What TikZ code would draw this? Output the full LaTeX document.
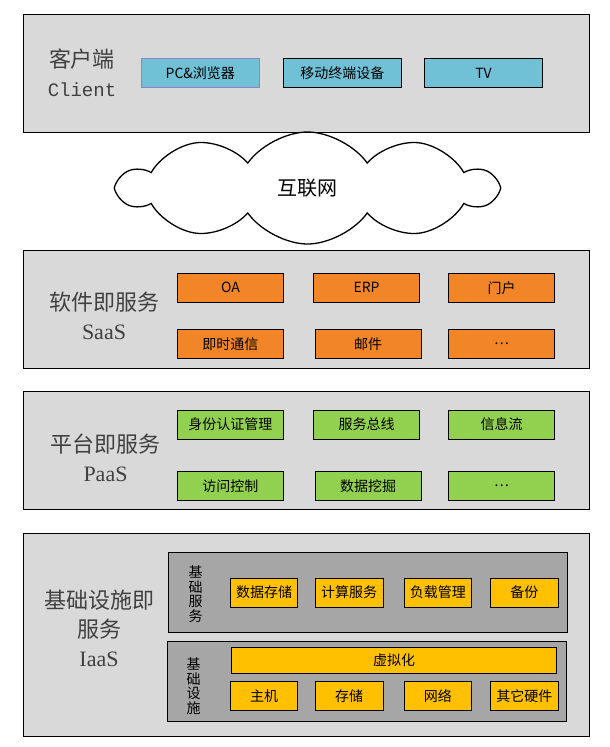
\documentclass[tikz,border=0pt]{standalone}
\usepackage{fontspec}
\setmainfont{Liberation Serif}
\newfontfamily\cjk{Noto Sans CJK SC}
\newfontfamily\monofont{Liberation Mono}
\usetikzlibrary{shapes.symbols}
\definecolor{panelgray}{RGB}{217,217,217}
\definecolor{darkpanel}{RGB}{166,166,166}
\definecolor{clientblue}{RGB}{112,192,214}
\definecolor{saasorange}{RGB}{241,133,40}
\definecolor{paasgreen}{RGB}{146,208,80}
\definecolor{iaasyellow}{RGB}{255,192,0}
\definecolor{labelgray}{RGB}{64,64,64}
\definecolor{borderpurple}{RGB}{150,130,190}
\tikzset{
  layer/.style={draw=black, fill=panelgray, line width=1pt},
  sublayer/.style={draw=black, fill=darkpanel, line width=1pt},
  item/.style={draw=black, line width=0.9pt, inner sep=0pt, minimum height=29pt,
    font=\cjk\fontsize{14}{14}\selectfont},
  title/.style={text=labelgray, align=center, font=\cjk\fontsize{22}{29}\selectfont},
  vtitle/.style={align=center, font=\cjk\fontsize{14}{14.6}\selectfont},
}
\begin{document}
\begin{tikzpicture}[x=1pt, y=-1pt]
  \useasboundingbox[fill=white] (0,0) rectangle (610,747);
  % client layer
  \draw[layer] (23.7,14.3) rectangle (589.5,132.3);
  \node[title] (client) at (82,73) {客户端\\{\monofont\fontsize{19}{28}\selectfont Client}};
  \node[item, fill=clientblue, draw=borderpurple, minimum width=118pt] (pc) at (200.3,73) {PC\&浏览器};
  \node[item, fill=clientblue, minimum width=118pt] (mobile) at (342.3,73) {移动终端设备};
  \node[item, fill=clientblue, minimum width=118pt] (tv) at (483.5,73) {TV};
  % internet
  \node[cloud, draw, cloud puffs=10, cloud puff arc=110, cloud ignores aspect,
    minimum width=376pt, minimum height=112pt, line width=1.3pt,
    font=\cjk\fontsize{20}{20}\selectfont] (internet) at (307.5,188) {互联网};
  % SaaS
  \draw[layer] (23.7,250.7) rectangle (589.5,368.3);
  \node[title] (saas) at (104,315.5) {软件即服务\\{\rmfamily SaaS}};
  \node[item, fill=saasorange, minimum width=106pt] (oa) at (230.4,287.8) {OA};
  \node[item, fill=saasorange, minimum width=106pt] (erp) at (366.5,287.8) {ERP};
  \node[item, fill=saasorange, minimum width=106pt] (portal) at (501.5,287.8) {门户};
  \node[item, fill=saasorange, minimum width=106pt] (im) at (230.4,344.2) {即时通信};
  \node[item, fill=saasorange, minimum width=106pt] (mail) at (368.2,344.2) {邮件};
  \node[item, fill=saasorange, minimum width=106pt] (saasmore) at (501.5,344.2) {…};
  % PaaS
  \draw[layer] (23.7,391.7) rectangle (589.5,509.3);
  \node[title] (paas) at (105.5,457.5) {平台即服务\\{\rmfamily PaaS}};
  \node[item, fill=paasgreen, minimum width=106pt] (auth) at (230.4,424.5) {身份认证管理};
  \node[item, fill=paasgreen, minimum width=106pt] (bus) at (366.5,424.5) {服务总线};
  \node[item, fill=paasgreen, minimum width=106pt] (flow) at (501.5,424.5) {信息流};
  \node[item, fill=paasgreen, minimum width=106pt] (access) at (230.4,485.8) {访问控制};
  \node[item, fill=paasgreen, minimum width=106pt] (mining) at (368.2,485.8) {数据挖掘};
  \node[item, fill=paasgreen, minimum width=106pt] (paasmore) at (501.5,485.8) {…};
  % IaaS
  \draw[layer] (23.7,533.3) rectangle (589.5,736.7);
  \node[title] (iaas) at (99,628.5) {基础设施即\\服务\\{\rmfamily IaaS}};
  \draw[sublayer] (168,552.3) rectangle (567.3,632.3);
  \node[vtitle] (basesrv) at (195.5,594) {基\\础\\服\\务};
  \node[item, fill=iaasyellow, minimum width=67.5pt] (store) at (264,592.5) {数据存储};
  \node[item, fill=iaasyellow, minimum width=67.5pt] (compute) at (349.2,592.5) {计算服务};
  \node[item, fill=iaasyellow, minimum width=67.5pt] (balance) at (437.8,592.5) {负载管理};
  \node[item, fill=iaasyellow, minimum width=67.5pt] (backup) at (524.4,592.5) {备份};
  \draw[sublayer] (167.3,641.7) rectangle (566.1,721.7);
  \node[vtitle] (basefac) at (193.5,686) {基\\础\\设\\施};
  \node[item, fill=iaasyellow, minimum width=325pt, minimum height=26pt] (virt) at (394,660.3) {虚拟化};
  \node[item, fill=iaasyellow, minimum width=67.5pt] (host) at (264,696.2) {主机};
  \node[item, fill=iaasyellow, minimum width=67.5pt] (disk) at (349.2,696.2) {存储};
  \node[item, fill=iaasyellow, minimum width=67.5pt] (net) at (437.8,696.2) {网络};
  \node[item, fill=iaasyellow, minimum width=67.5pt] (other) at (524.4,696.2) {其它硬件};
\end{tikzpicture}
\end{document}
